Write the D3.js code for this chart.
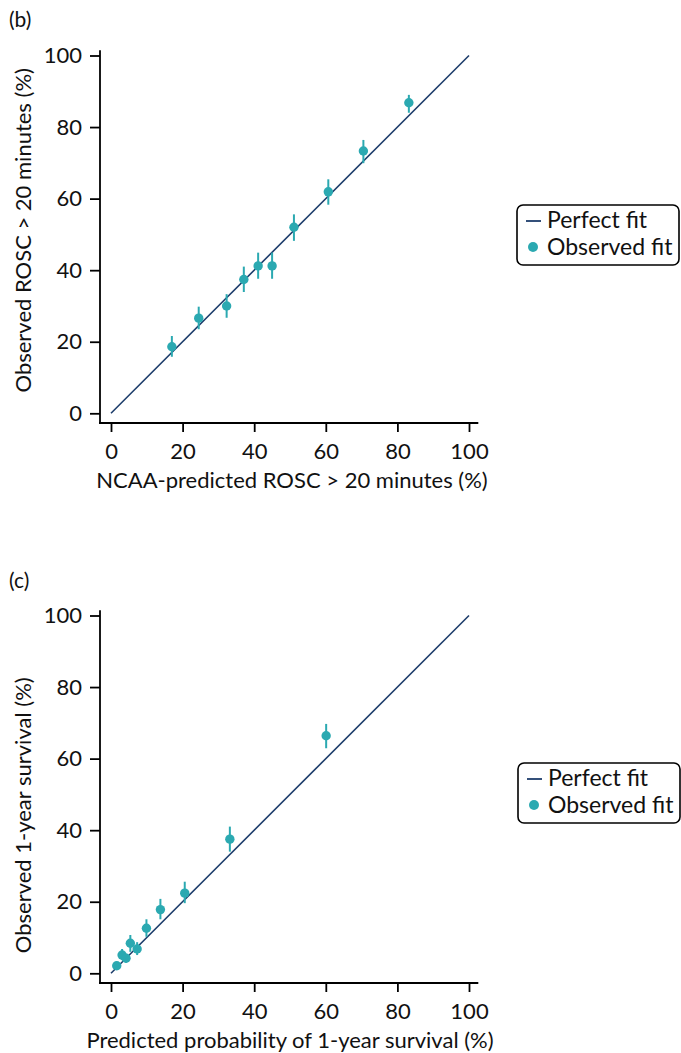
<!DOCTYPE html>
<html><head><meta charset="utf-8">
<script src="https://cdn.jsdelivr.net/npm/d3@7"></script>
<style>
html,body{margin:0;padding:0;background:#fff;}
text{font-family:Lato,"Noto Sans",sans-serif;fill:#111;}
</style></head>
<body><svg id="chart" width="681" height="1053"></svg>
<script>
// ---- data ----
const xTicks = [0, 20, 40, 60, 80, 100];
const yTicks = [0, 20, 40, 60, 80, 100];
const perfectFit = [0, 100];
const legendLabels = ["Perfect fit", "Observed fit"];

const panelBLabel = "(b)";
const panelBXTitle = "NCAA-predicted ROSC > 20 minutes (%)";
const panelBYTitle = "Observed ROSC > 20 minutes (%)";
const panelBPredicted = [17.0, 24.5, 32.3, 37.1, 41.1, 45.0, 51.1, 60.7, 70.5, 83.2];
const panelBObserved  = [18.6, 26.6, 30.0, 37.4, 41.2, 41.2, 52.0, 61.9, 73.3, 86.8];
const panelBLower     = [15.8, 23.5, 26.7, 33.9, 37.6, 37.6, 48.2, 58.3, 69.9, 84.0];
const panelBUpper     = [21.6, 29.8, 33.3, 41.0, 44.9, 44.9, 55.6, 65.4, 76.4, 89.0];

const panelCLabel = "(c)";
const panelCXTitle = "Predicted probability of 1-year survival (%)";
const panelCYTitle = "Observed 1-year survival (%)";
const panelCPredicted = [1.6, 3.1, 4.2, 5.4, 7.3, 9.9, 13.8, 20.6, 33.2, 60.1];
const panelCObserved  = [2.1, 5.1, 4.2, 8.4, 6.8, 12.6, 17.8, 22.4, 37.5, 66.4];
const panelCLower     = [1.1, 3.7, 3.0, 6.0, 5.1, 10.2, 15.1, 19.6, 34.0, 62.9];
const panelCUpper     = [3.1, 6.8, 5.4, 10.7, 8.7, 15.1, 20.8, 25.6, 41.0, 69.7];

// ---- styles ----
const teal = "#2ba9b1";
const navy = "#1d3d6b";
const fs = "22px";
const svg = d3.select("#chart");

function drawPanel(opt) {
  const g = svg.append("g");
  const x = d3.scaleLinear().domain([0, 100]).range([111, 469]);
  const y = d3.scaleLinear().domain([0, 100]).range([opt.y0, opt.y0 - 357.8]);
  const axisY = opt.y0 + 9.7;   // x-axis line position
  const axisX = 100;            // y-axis line position

  // panel label
  g.append("text").attr("x", 9).attr("y", opt.labelY).style("font-size", "21px").text(opt.label);

  // x axis
  const xa = g.append("g").attr("transform", `translate(0,${axisY})`)
    .call(d3.axisBottom(x).tickValues(xTicks).tickSize(9).tickSizeOuter(0).tickPadding(11));
  xa.select(".domain").remove();
  xa.selectAll(".tick line").attr("stroke", "#000").attr("stroke-width", 1.8);
  xa.selectAll(".tick text").style("font-size", fs).style("font-family", "Lato").attr("fill", "#111");
  g.append("line").attr("x1", axisX - 1).attr("x2", x(102.6)).attr("y1", axisY).attr("y2", axisY)
    .attr("stroke", "#000").attr("stroke-width", 1.8);

  // y axis
  const ya = g.append("g").attr("transform", `translate(${axisX},0)`)
    .call(d3.axisLeft(y).tickValues(yTicks).tickSize(10).tickSizeOuter(0).tickPadding(8));
  ya.select(".domain").remove();
  ya.selectAll(".tick line").attr("stroke", "#000").attr("stroke-width", 1.8);
  ya.selectAll(".tick text").style("font-size", fs).style("font-family", "Lato").attr("fill", "#111");
  g.append("line").attr("x1", axisX).attr("x2", axisX).attr("y1", y(101.5)).attr("y2", axisY + 1)
    .attr("stroke", "#000").attr("stroke-width", 1.8);

  // axis titles
  g.append("text").attr("x", opt.xTitleX).attr("y", opt.y0 + 75).attr("text-anchor", "middle")
    .style("font-size", fs).text(opt.xTitle);
  g.append("text").attr("transform", `translate(31,${opt.y0 - opt.yTitleOff}) rotate(-90)`)
    .attr("text-anchor", "middle").style("font-size", fs).text(opt.yTitle);

  // perfect fit line
  g.append("line").attr("x1", x(perfectFit[0])).attr("y1", y(perfectFit[0]))
    .attr("x2", x(perfectFit[1])).attr("y2", y(perfectFit[1]))
    .attr("stroke", navy).attr("stroke-width", 1.6);

  // error bars
  const idx = d3.range(opt.pred.length);
  g.selectAll(".eb").data(idx).join("line")
    .attr("x1", i => x(opt.pred[i])).attr("x2", i => x(opt.pred[i]))
    .attr("y1", i => y(opt.lower[i])).attr("y2", i => y(opt.upper[i]))
    .attr("stroke", teal).attr("stroke-width", 2);
  // points
  g.selectAll(".pt").data(idx).join("circle")
    .attr("cx", i => x(opt.pred[i])).attr("cy", i => y(opt.obs[i])).attr("r", 4.7)
    .attr("fill", teal);

  // legend
  const lg = g.append("g").attr("transform", `translate(${opt.legX},${opt.legY})`);
  lg.append("rect").attr("x", 0).attr("y", 0).attr("width", 162).attr("height", 60).attr("rx", 6)
    .attr("fill", "#fff").attr("stroke", "#000").attr("stroke-width", 1.6);
  lg.append("line").attr("x1", 9).attr("x2", 24).attr("y1", 16).attr("y2", 16)
    .attr("stroke", navy).attr("stroke-width", 1.8);
  lg.append("circle").attr("cx", 16).attr("cy", 42).attr("r", 5).attr("fill", teal);
  lg.append("text").attr("x", 30).attr("y", 23).style("font-size", "23px").text(legendLabels[0]);
  lg.append("text").attr("x", 30).attr("y", 50).style("font-size", "23px").text(legendLabels[1]);
}

drawPanel({label: panelBLabel, labelY: 27, y0: 413.3, xTitle: panelBXTitle, yTitle: panelBYTitle,
  xTitleX: 292, yTitleOff: 183,
  pred: panelBPredicted, obs: panelBObserved, lower: panelBLower, upper: panelBUpper, legX: 517, legY: 205});
drawPanel({label: panelCLabel, labelY: 588, y0: 973.3, xTitle: panelCXTitle, yTitle: panelCYTitle,
  xTitleX: 290, yTitleOff: 158,
  pred: panelCPredicted, obs: panelCObserved, lower: panelCLower, upper: panelCUpper, legX: 518, legY: 763});
</script></body></html>
